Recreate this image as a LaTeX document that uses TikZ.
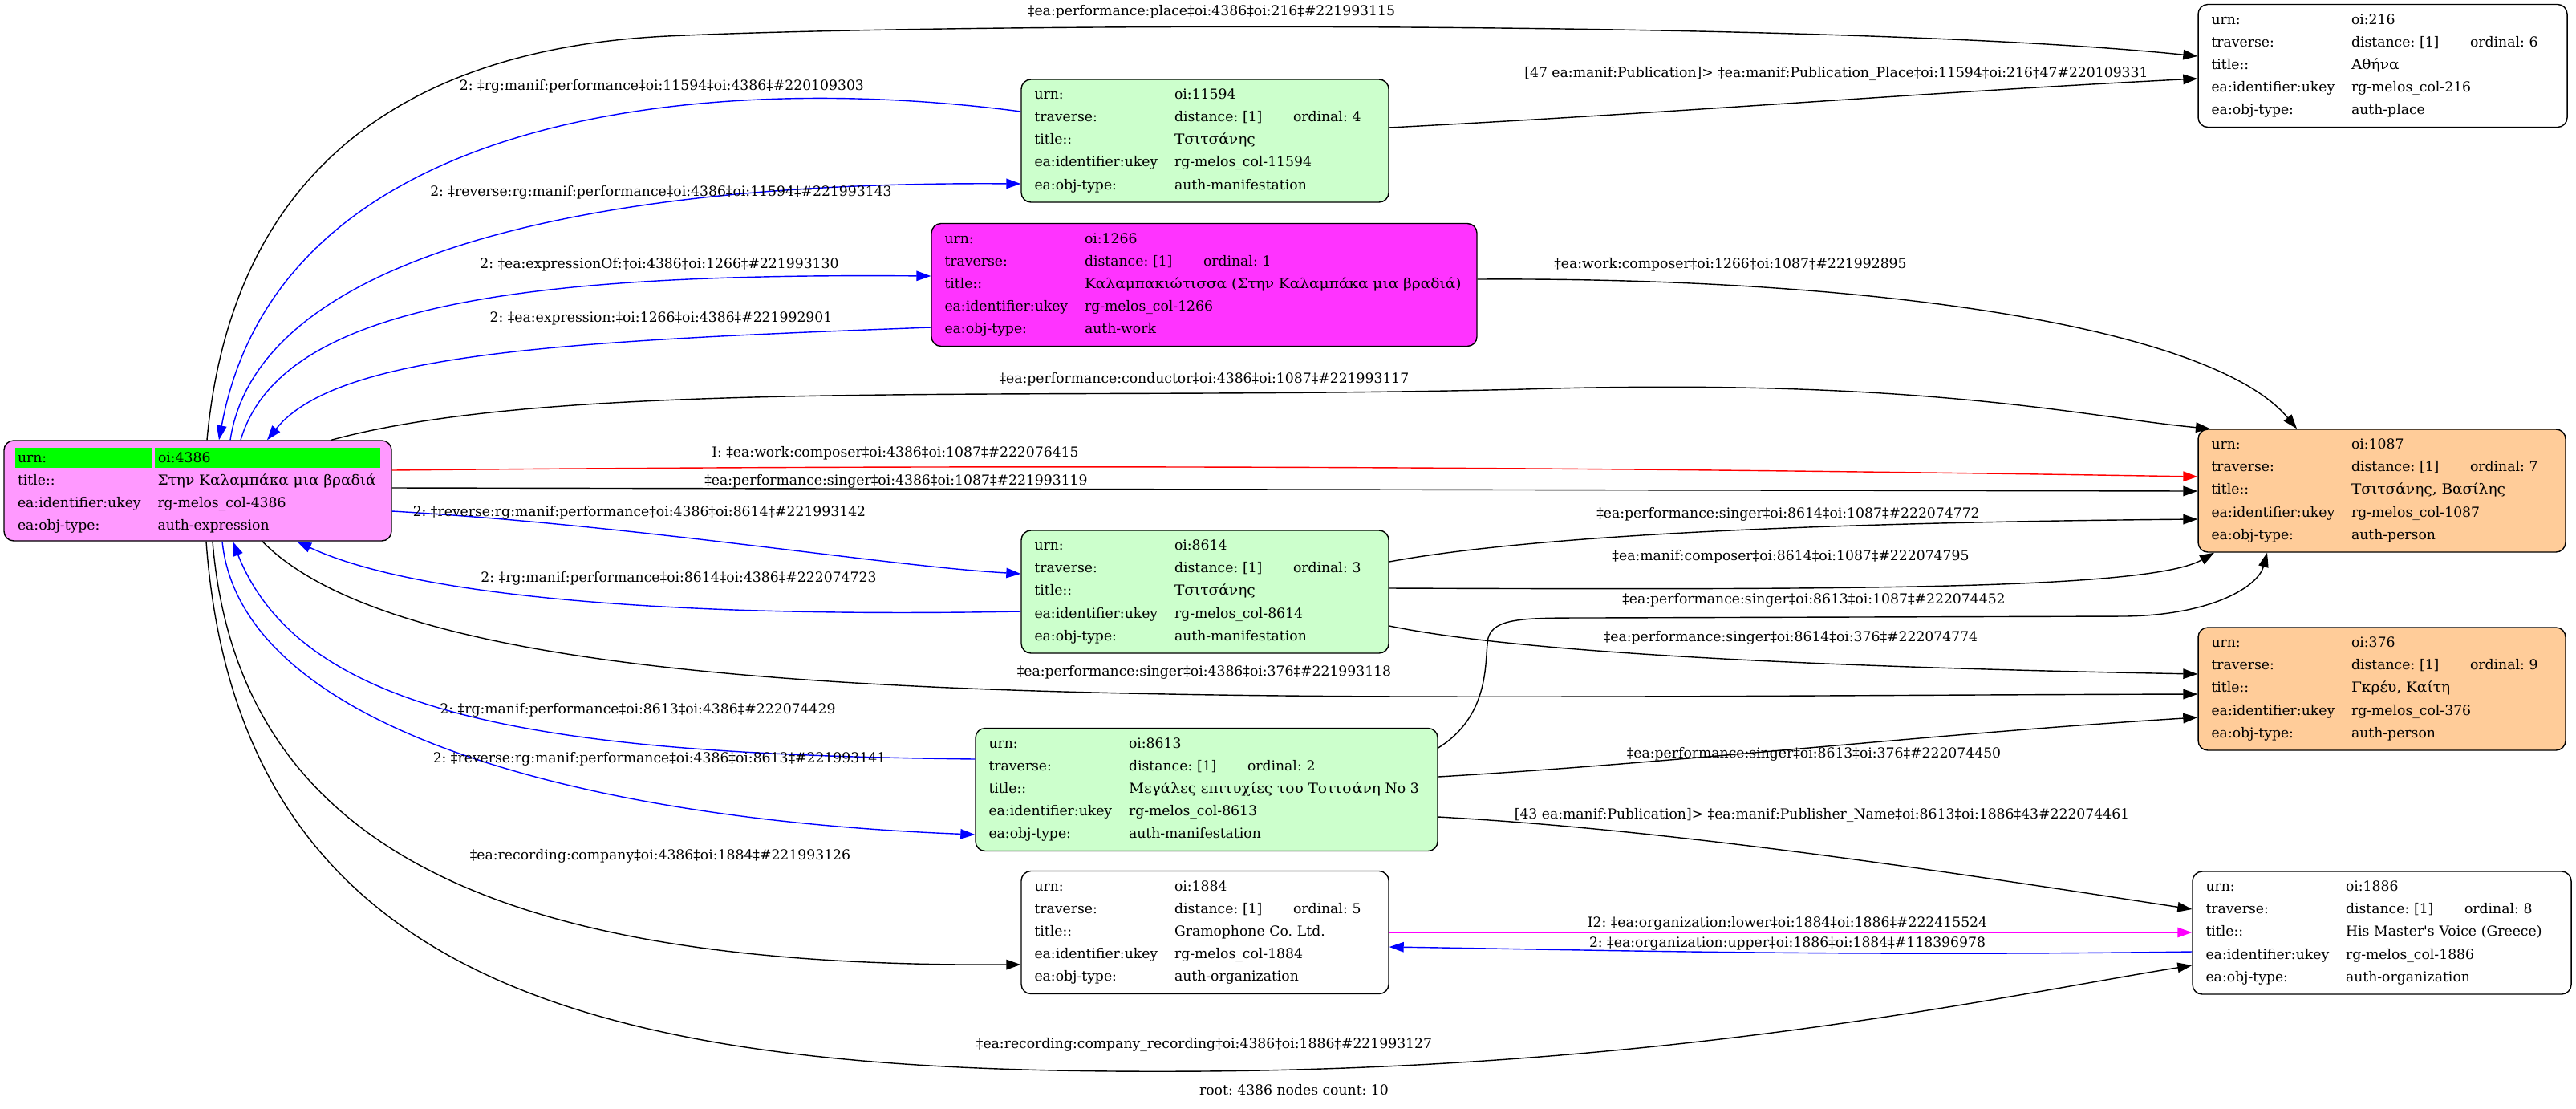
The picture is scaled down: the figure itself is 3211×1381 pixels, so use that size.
\documentclass[tikz,border=0pt]{standalone}
\usepackage{fontspec}
\setmainfont{DejaVu Serif}
\newfontfamily\grkfont[FakeStretch=1.08]{DejaVu Serif}
\usetikzlibrary{arrows.meta}
\definecolor{exprpink}{RGB}{255,153,255}
\definecolor{workmagenta}{RGB}{255,51,255}
\definecolor{manifgreen}{RGB}{204,255,204}
\definecolor{personorange}{RGB}{255,204,153}
\definecolor{hlgreen}{RGB}{0,255,0}
\definecolor{linkmagenta}{RGB}{255,0,255}
\frenchspacing
\newcommand{\graphfont}{\fontsize{4.9pt}{7.97pt}\selectfont}
\newcommand{\gr}[1]{{\grkfont #1}}
\newcommand{\kv}[2]{\makebox[17.45mm][l]{#1}\mbox{#2}}
\newcommand{\trv}[1]{\makebox[14.8mm][l]{distance: [1]}ordinal: #1}
\newcommand{\hl}[2]{\colorbox{hlgreen}{\makebox[#1][l]{\hspace*{0.3mm}\rule[-0.65mm]{0pt}{2.5mm}#2}}}

\begin{document}
\begin{tikzpicture}[
            x=0.1mm, y=-0.1mm,
            card/.style={rectangle, draw=black, line width=0.4pt, rounded corners=1.2mm,
                         align=left, inner xsep=1.65mm, inner ysep=0pt,
                         minimum height=15.3mm, font=\graphfont},
            wd/.style={text width=#1-3.3mm},
            manif/.style={card, fill=manifgreen},
            person/.style={card, fill=personorange},
            org/.style={card, fill=white},
            edge/.style={line width=0.4pt, -{Triangle[length=1.8mm, width=1.25mm]}},
            elabel/.style={font=\graphfont, inner sep=0pt}
        ]
            \useasboundingbox (0,0) rectangle (3211,1381);

            % nodes
            \node[card, fill=exprpink, minimum height=12.5mm, inner xsep=1.4mm, text width=45.5mm] (n4386) at (246.5,611.5)
                {\setlength{\fboxsep}{0pt}\hl{17.0mm}{urn:}\hspace*{0.4mm}\hl{28.1mm}{\hspace*{0.1mm}oi:4386}\\
                 \hspace*{0.3mm}\kv{title::}{\gr{Στην Καλαμπάκα μια βραδιά}}\\
                 \hspace*{0.3mm}\kv{ea:identifier:ukey}{rg-melos\_col-4386}\\
                 \hspace*{0.3mm}\kv{ea:obj-type:}{auth-expression}};
            \node[manif, wd=45.8mm] (n11594) at (1502,175.5)
                {\kv{urn:}{oi:11594}\\ \kv{traverse:}{\trv{4}}\\ \kv{title::}{\gr{Τσιτσάνης}}\\
                 \kv{ea:identifier:ukey}{rg-melos\_col-11594}\\ \kv{ea:obj-type:}{auth-manifestation}};
            \node[card, fill=workmagenta, wd=68mm] (n1266) at (1501,355)
                {\kv{urn:}{oi:1266}\\ \kv{traverse:}{\trv{1}}\\ \kv{title::}{\gr{Καλαμπακιώτισσα (Στην Καλαμπάκα μια βραδιά)}}\\
                 \kv{ea:identifier:ukey}{rg-melos\_col-1266}\\ \kv{ea:obj-type:}{auth-work}};
            \node[org, wd=46mm] (n216) at (2970,82)
                {\kv{urn:}{oi:216}\\ \kv{traverse:}{\trv{6}}\\ \kv{title::}{\gr{Αθήνα}}\\
                 \kv{ea:identifier:ukey}{rg-melos\_col-216}\\ \kv{ea:obj-type:}{auth-place}};
            \node[person, wd=45.8mm] (n1087) at (2969,611.5)
                {\kv{urn:}{oi:1087}\\ \kv{traverse:}{\trv{7}}\\ \kv{title::}{\gr{Τσιτσάνης, Βασίλης}}\\
                 \kv{ea:identifier:ukey}{rg-melos\_col-1087}\\ \kv{ea:obj-type:}{auth-person}};
            \node[person, wd=45.8mm] (n376) at (2969,858.5)
                {\kv{urn:}{oi:376}\\ \kv{traverse:}{\trv{9}}\\ \kv{title::}{\gr{Γκρέυ, Καίτη}}\\
                 \kv{ea:identifier:ukey}{rg-melos\_col-376}\\ \kv{ea:obj-type:}{auth-person}};
            \node[manif, wd=45.8mm] (n8614) at (1502,737.5)
                {\kv{urn:}{oi:8614}\\ \kv{traverse:}{\trv{3}}\\ \kv{title::}{\gr{Τσιτσάνης}}\\
                 \kv{ea:identifier:ukey}{rg-melos\_col-8614}\\ \kv{ea:obj-type:}{auth-manifestation}};
            \node[manif, wd=57.6mm] (n8613) at (1504,984)
                {\kv{urn:}{oi:8613}\\ \kv{traverse:}{\trv{2}}\\ \kv{title::}{\gr{Μεγάλες επιτυχίες του Τσιτσάνη} No 3}\\
                 \kv{ea:identifier:ukey}{rg-melos\_col-8613}\\ \kv{ea:obj-type:}{auth-manifestation}};
            \node[org, wd=45.8mm] (n1884) at (1502,1162)
                {\kv{urn:}{oi:1884}\\ \kv{traverse:}{\trv{5}}\\ \kv{title::}{Gramophone Co. Ltd.}\\
                 \kv{ea:identifier:ukey}{rg-melos\_col-1884}\\ \kv{ea:obj-type:}{auth-organization}};
            \node[org, wd=47.2mm] (n1886) at (2969,1162.5)
                {\kv{urn:}{oi:1886}\\ \kv{traverse:}{\trv{8}}\\ \kv{title::}{His Master\textquotesingle s Voice (Greece)}\\
                 \kv{ea:identifier:ukey}{rg-melos\_col-1886}\\ \kv{ea:obj-type:}{auth-organization}};

            % edges
            \draw[edge] (258,0 |- n4386.north) .. controls (290,200) and (520,60) .. (832,45)
                .. controls (1200,28) and (2300,25) .. (n216.west |- 0,70);
            \draw[edge, blue] (n11594.west |- 0,139) .. controls (900,90) and (350,130) .. (273,0 |- n4386.north);
            \draw[edge] (n11594.east |- 0,159) .. controls (2100,140) and (2400,115) .. (n216.west |- 0,98);
            \draw[edge, blue] (287,0 |- n4386.north) .. controls (320,330) and (700,225) .. (n11594.west |- 0,229);
            \draw[edge, blue] (300,0 |- n4386.north) .. controls (350,380) and (650,340) .. (n1266.west |- 0,344);
            \draw[edge] (n1266.east |- 0,348) .. controls (2350,345) and (2760,410) .. (2863,0 |- n1087.north);
            \draw[edge, blue] (n1266.west |- 0,408) .. controls (700,425) and (420,440) .. (333,0 |- n4386.north);
            \draw[edge] (413,0 |- n4386.north) .. controls (700,470) and (1300,500) .. (1900,485)
                .. controls (2400,470) and (2600,520) .. (2755,0 |- n1087.north);
            \draw[edge, red] (n4386.east |- 0,586) .. controls (1300,578) and (2000,582) .. (n1087.west |- 0,594);
            \draw[edge] (n4386.east |- 0,608) -- (n1087.west |- 0,612);
            \draw[edge, blue] (n4386.east |- 0,637) .. controls (800,655) and (1100,705) .. (n8614.west |- 0,715);
            \draw[edge] (n8614.east |- 0,700) .. controls (1950,660) and (2400,650) .. (n1087.west |- 0,647);
            \draw[edge] (n8614.east |- 0,733) .. controls (2300,735) and (2680,735) .. (2760,0 |- n1087.south);
            \draw[edge, blue] (n8614.west |- 0,762) .. controls (850,770) and (520,745) .. (370,0 |- n4386.south);
            \draw[edge] (n8613.east |- 0,932) .. controls (1860,890) and (1850,820) .. (1855,795)
                .. controls (1862,770) and (1900,770) .. (1980,770) -- (2650,768)
                .. controls (2760,766) and (2815,730) .. (2826,0 |- n1087.south);
            \draw[edge] (n8614.east |- 0,780) .. controls (1900,815) and (2300,832) .. (n376.west |- 0,840);
            \draw[edge] (327,0 |- n4386.south) .. controls (550,900) and (1500,868) .. (n376.west |- 0,865);
            \draw[edge, blue] (n8613.west |- 0,946) .. controls (700,940) and (380,900) .. (290,0 |- n4386.south);
            \draw[edge] (n8613.east |- 0,968) .. controls (2100,950) and (2400,915) .. (n376.west |- 0,894);
            \draw[edge, blue] (277,0 |- n4386.south) .. controls (300,900) and (700,1020) .. (n8613.west |- 0,1040);
            \draw[edge] (n8613.east |- 0,1018) .. controls (2100,1035) and (2450,1090) .. (n1886.west |- 0,1133);
            \draw[edge] (265,0 |- n4386.south) .. controls (300,1100) and (700,1205) .. (n1884.west |- 0,1202);
            \draw[edge, linkmagenta] (n1884.east |- 0,1162) -- (n1886.west |- 0,1162);
            \draw[edge, blue] (n1886.west |- 0,1186) .. controls (2300,1192) and (2000,1184) .. (n1884.east |- 0,1180);
            \draw[edge] (257,0 |- n4386.south) .. controls (300,1260) and (800,1340) .. (1500,1335)
                .. controls (2100,1330) and (2500,1240) .. (n1886.west |- 0,1203);

            % edge labels
            \node[elabel] (l1) at (1510,15) {‡ea:performance:place‡oi:4386‡oi:216‡\#221993115};
            \node[elabel] (l2) at (825,108) {2: ‡rg:manif:performance‡oi:11594‡oi:4386‡\#220109303};
            \node[elabel] (l3) at (2289,92) {[47 ea:manif:Publication]> ‡ea:manif:Publication\_Place‡oi:11594‡oi:216‡47\#220109331};
            \node[elabel] (l4) at (824,240) {2: ‡reverse:rg:manif:performance‡oi:4386‡oi:11594‡\#221993143};
            \node[elabel] (l5) at (822,330) {2: ‡ea:expressionOf:‡oi:4386‡oi:1266‡\#221993130};
            \node[elabel] (l6) at (2157,330) {‡ea:work:composer‡oi:1266‡oi:1087‡\#221992895};
            \node[elabel] (l7) at (824,397) {2: ‡ea:expression:‡oi:1266‡oi:4386‡\#221992901};
            \node[elabel] (l8) at (1501,473) {‡ea:performance:conductor‡oi:4386‡oi:1087‡\#221993117};
            \node[elabel] (l9) at (1116,565) {I: ‡ea:work:composer‡oi:4386‡oi:1087‡\#222076415};
            \node[elabel] (l10) at (1117,600) {‡ea:performance:singer‡oi:4386‡oi:1087‡\#221993119};
            \node[elabel] (l11) at (797,639) {2: ‡reverse:rg:manif:performance‡oi:4386‡oi:8614‡\#221993142};
            \node[elabel] (l12) at (2229,641) {‡ea:performance:singer‡oi:8614‡oi:1087‡\#222074772};
            \node[elabel] (l13) at (2232,694) {‡ea:manif:composer‡oi:8614‡oi:1087‡\#222074795};
            \node[elabel] (l14) at (846,721) {2: ‡rg:manif:performance‡oi:8614‡oi:4386‡\#222074723};
            \node[elabel] (l15) at (2261,748) {‡ea:performance:singer‡oi:8613‡oi:1087‡\#222074452};
            \node[elabel] (l16) at (2232,795) {‡ea:performance:singer‡oi:8614‡oi:376‡\#222074774};
            \node[elabel] (l17) at (1501,838) {‡ea:performance:singer‡oi:4386‡oi:376‡\#221993118};
            \node[elabel] (l18) at (795,885) {2: ‡rg:manif:performance‡oi:8613‡oi:4386‡\#222074429};
            \node[elabel] (l19) at (2261,940) {‡ea:performance:singer‡oi:8613‡oi:376‡\#222074450};
            \node[elabel] (l20) at (822,946) {2: ‡reverse:rg:manif:performance‡oi:4386‡oi:8613‡\#221993141};
            \node[elabel] (l21) at (2271,1016) {[43 ea:manif:Publication]> ‡ea:manif:Publisher\_Name‡oi:8613‡oi:1886‡43\#222074461};
            \node[elabel] (l22) at (823,1067) {‡ea:recording:company‡oi:4386‡oi:1884‡\#221993126};
            \node[elabel] (l23) at (2228,1151) {I2: ‡ea:organization:lower‡oi:1884‡oi:1886‡\#222415524};
            \node[elabel] (l24) at (2228,1176) {2: ‡ea:organization:upper‡oi:1886‡oi:1884‡\#118396978};
            \node[elabel] (l25) at (1501,1302) {‡ea:recording:company\_recording‡oi:4386‡oi:1886‡\#221993127};

            \node[elabel] (root) at (1613,1358) {root: 4386 nodes count: 10};
        \end{tikzpicture}
\end{document}
